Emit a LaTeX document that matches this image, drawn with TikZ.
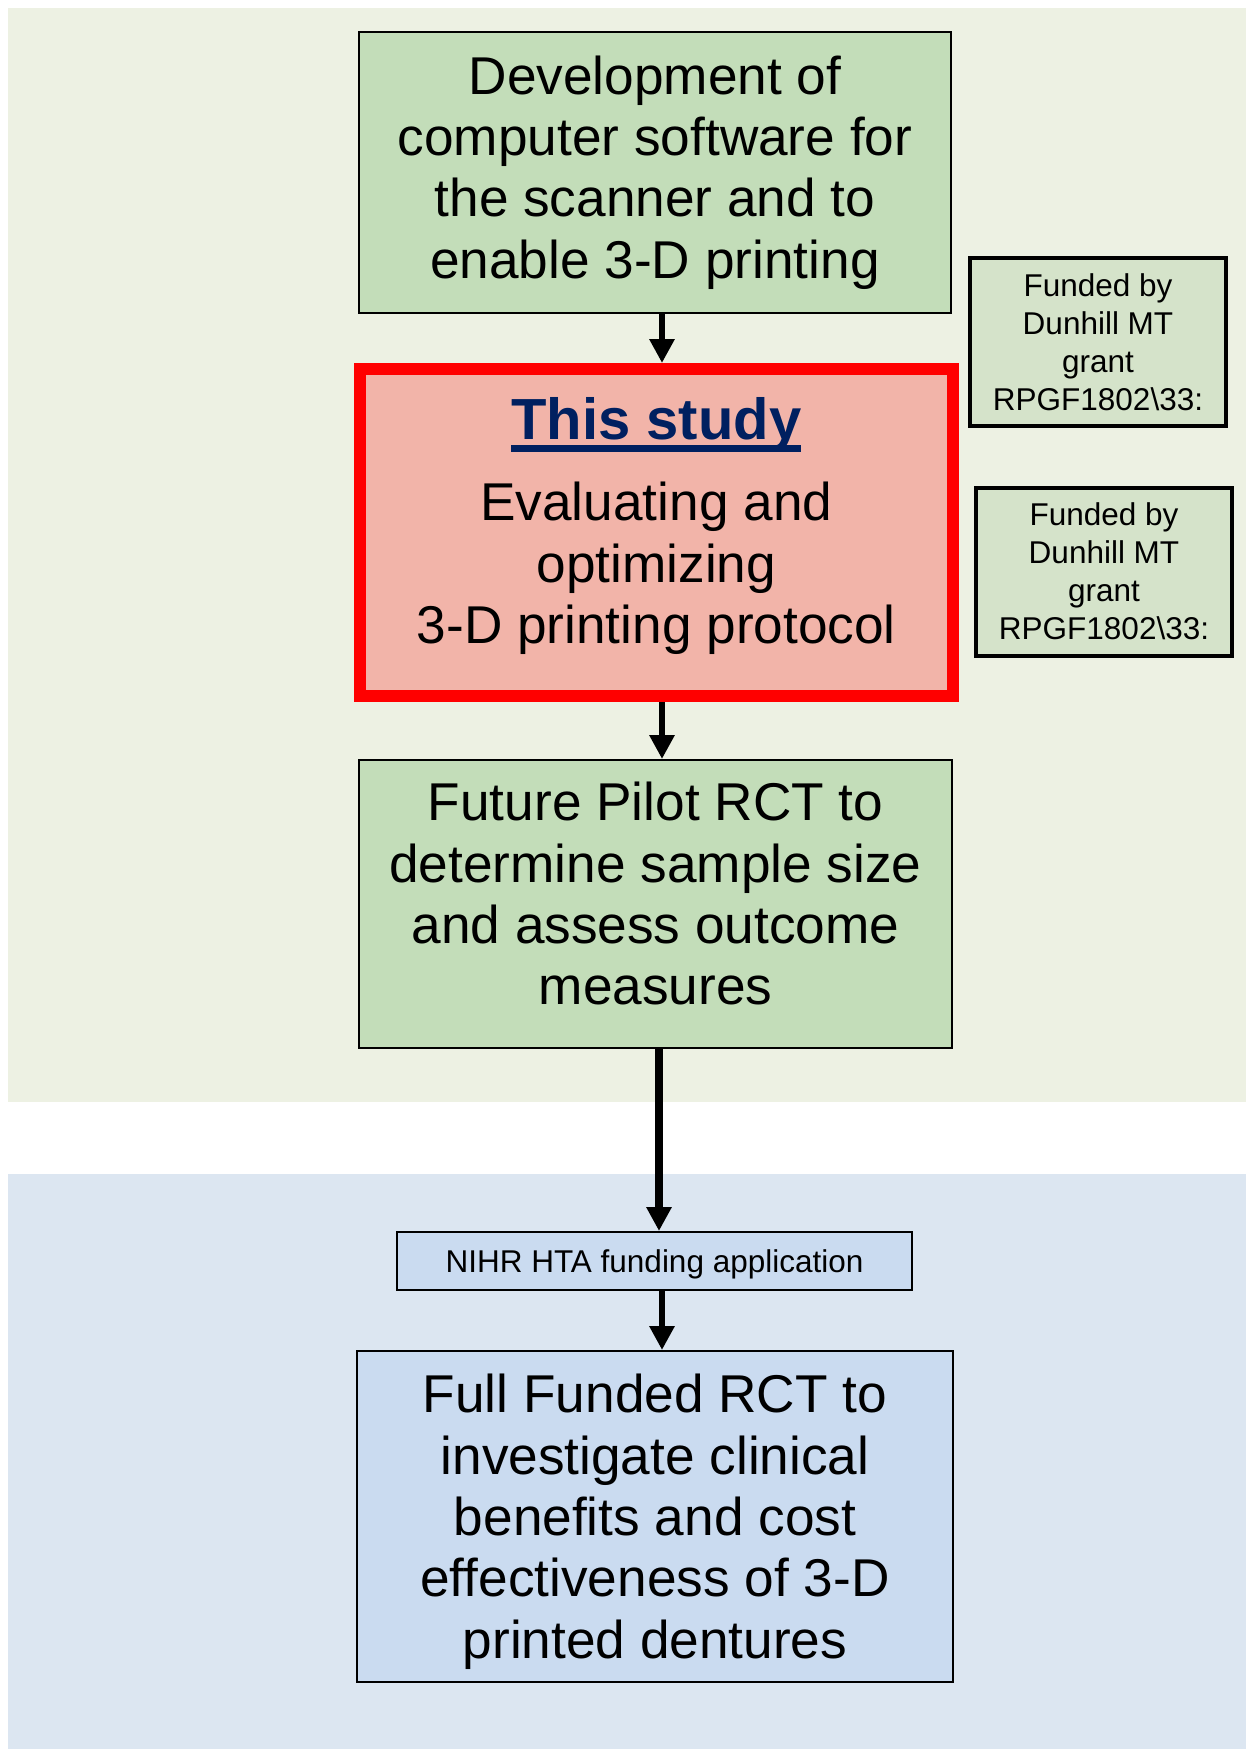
\documentclass[tikz,border=0pt]{standalone}
\usepackage{fontspec}
\setmainfont{Liberation Sans}
\usetikzlibrary{arrows.meta}
\definecolor{bggreen}{HTML}{EDF1E3}
\definecolor{bgblue}{HTML}{DCE6F1}
\definecolor{boxgreen}{HTML}{C3DDB9}
\definecolor{fundfill}{HTML}{D5E3CA}
\definecolor{studyfill}{HTML}{F2B4A9}
\definecolor{boxblue}{HTML}{CADBF0}
\definecolor{navy}{HTML}{002060}
\newcommand\bigtxt{\fontsize{53.2}{61.3}\selectfont}
\newcommand\smalltxt{\fontsize{31.5}{38}\selectfont}
\newcommand\titletxt{\fontsize{58}{68}\selectfont\bfseries\color{navy}}
\newcommand\dpt[1]{\rule[-#1]{0pt}{0pt}}
\newcommand\myul[1]{\setbox0=\hbox{#1}\rlap{\rule[-12pt]{\wd0}{6.5pt}}\box0}
\begin{document}
\begin{tikzpicture}[x=1pt,y=-1pt,
  box/.style={draw=black, line width=2pt, inner sep=0pt, align=center, font=\bigtxt, text=black},
  fundbox/.style={box, fill=fundfill, line width=4pt, minimum width=256pt, minimum height=168pt, font=\smalltxt},
  arr/.style={draw=black, line width=6.5pt, -{Triangle[length=24pt,width=24pt]}}]
\useasboundingbox (0,0) rectangle (1246,1749);
\fill[white] (0,0) rectangle (1246,1749);
\fill[bggreen] (8,8) rectangle (1246,1102);
\fill[bgblue] (8,1174) rectangle (1246,1749);

\node[box, fill=boxgreen, minimum width=592pt, minimum height=281pt] (dev) at (655,172.5)
  {Development of\\computer software for\\the scanner and to\\enable 3-D printing};

\node[box, fill=studyfill, draw=red, line width=12pt, minimum width=592.6pt, minimum height=327pt] (study) at (656.3,532.5)
  {{\titletxt\myul{This study}}\\[20pt]Evaluating and\\optimizing\\3-D printing protocol\dpt{24pt}};

\node[fundbox] (fund1) at (1098,342) {Funded by\\Dunhill MT\\grant\\RPGF1802\textbackslash 33:};
\node[fundbox] (fund2) at (1104,571.5) {Funded by\\Dunhill MT\\grant\\RPGF1802\textbackslash 33:};

\node[box, fill=boxgreen, minimum width=593pt, minimum height=288pt] (pilot) at (655.5,904)
  {Future Pilot RCT to\\determine sample size\\and assess outcome\\measures\dpt{21pt}};

\node[box, fill=boxblue, minimum width=515pt, minimum height=58pt, font=\smalltxt] (nihr) at (654.5,1261)
  {\rule{0pt}{30pt}NIHR HTA funding application};

\node[box, fill=boxblue, minimum width=596pt, minimum height=331pt] (rct) at (655,1516.5)
  {\rule{0pt}{49pt}Full Funded RCT to\\investigate clinical\\benefits and cost\\effectiveness of 3-D\\printed dentures};

\draw[arr] (dev.south -| 662,0) -- (study.north -| 662,0);
\draw[arr] (study.south -| 662,0) -- (pilot.north -| 662,0);
\draw[arr, line width=7.3pt] (pilot.south -| 659,0) -- (nihr.north -| 659,0);
\draw[arr] (nihr.south -| 662,0) -- (rct.north -| 662,0);
\end{tikzpicture}
\end{document}
